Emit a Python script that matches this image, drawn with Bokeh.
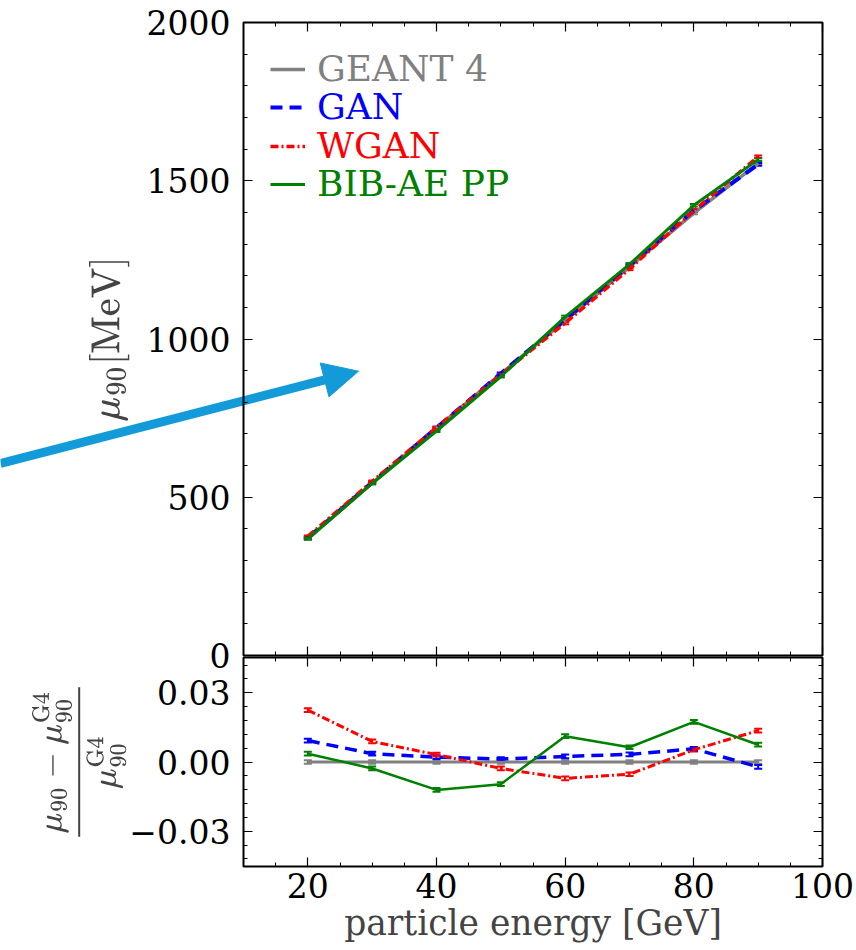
from bokeh.plotting import figure
from bokeh.layouts import column
from bokeh.models import (Range1d, FixedTicker, LinearAxis, Legend, LegendItem, Whisker,
                          TeeHead, Arrow, NormalHead, ColumnDataSource, CustomJSTickFormatter)
from bokeh.embed import file_html
from bokeh.resources import INLINE

# ---------------- data ----------------
energy = [20, 30, 40, 50, 60, 70, 80, 90]

mu_g4 = [368.0, 545.0, 718.0, 890.0, 1058.0, 1228.0, 1398.0, 1555.0]
mu_gan = [371.4, 547.0, 719.5, 891.2, 1060.5, 1232.0, 1406.0, 1551.7]
mu_wgan = [376.3, 549.9, 720.3, 887.5, 1050.5, 1221.5, 1405.4, 1576.1]
mu_bib = [369.3, 543.5, 709.3, 881.5, 1069.8, 1235.9, 1422.3, 1566.7]
mu_err = [3.0, 3.0, 3.0, 3.0, 4.0, 4.0, 4.0, 4.0]

rel_g4 = [0.0, 0.0, 0.0, 0.0, 0.0, 0.0, 0.0, 0.0]
rel_gan = [0.0093, 0.0036, 0.0021, 0.0013, 0.0024, 0.0033, 0.0057, -0.0021]
rel_wgan = [0.0225, 0.0089, 0.0032, -0.0028, -0.0071, -0.0053, 0.0053, 0.0136]
rel_bib = [0.0036, -0.0028, -0.0121, -0.0096, 0.0112, 0.0064, 0.0174, 0.0075]
rel_err = [0.0008, 0.0008, 0.0008, 0.0008, 0.0008, 0.0008, 0.0008, 0.0008]

series_names = ["GEANT 4", "GAN", "WGAN", "BIB-AE PP"]

x_major = [20, 40, 60, 80, 100]
x_minor = [10, 15, 20, 25, 30, 35, 40, 45, 50, 55, 60, 65, 70, 75, 80, 85, 90, 95, 100]
top_major = [0, 500, 1000, 1500, 2000]
top_minor = [0, 100, 200, 300, 400, 500, 600, 700, 800, 900, 1000, 1100, 1200, 1300, 1400,
             1500, 1600, 1700, 1800, 1900, 2000]
bot_major = [-0.03, 0.0, 0.03]
bot_minor = [-0.042, -0.036, -0.03, -0.024, -0.018, -0.012, -0.006, 0.0, 0.006, 0.012, 0.018,
             0.024, 0.03, 0.036, 0.042]

x_label = "particle energy [GeV]"
top_ylabel = r"$$\mu_{90}[\mathrm{MeV}]$$"
bot_ylabel = r"$$\frac{\mu_{90}-\mu_{90}^{\mathrm{G4}}}{\mu_{90}^{\mathrm{G4}}}$$"

# ---------------- styles ----------------
FONT = "DejaVu Serif"
FS = "33px"
styles = [
    dict(color="#808080", dash="solid", width=3),
    dict(color="#0000ff", dash="12 7", width=3.5),
    dict(color="#ff0000", dash="8 3 2 3", width=3),
    dict(color="#008000", dash="solid", width=2.5),
]
ARROW_COLOR = "#129bd8"
# pointer arrow of the picture, in page pixels (x from left, y from top)
ARROW_START_PX = (0, 463)
ARROW_END_PX = (358, 370.7)

W = 856
FRAME_L, FRAME_R, FRAME_T = 243, 34, 22
TOP_FRAME_H = 633
OVERLAP = 22
TOP_H = FRAME_T + TOP_FRAME_H + OVERLAP
x_range = Range1d(10, 100)


def setup_axis(ax, ticker, show_labels, formatter=None):
    ax.ticker = ticker
    ax.axis_line_color = None
    ax.major_tick_in = 9
    ax.major_tick_out = 0
    ax.minor_tick_in = 4
    ax.minor_tick_out = 0
    ax.major_tick_line_color = "black"
    ax.minor_tick_line_color = "black"
    ax.major_tick_line_width = 1.2
    ax.minor_tick_line_width = 1
    if show_labels:
        ax.major_label_text_font = FONT
        ax.major_label_text_font_size = FS
        ax.major_label_text_color = "black"
        ax.major_label_standoff = 13
        if formatter is not None:
            ax.formatter = formatter
    else:
        ax.major_label_text_font_size = "0px"
        ax.major_label_standoff = 0
        ax.formatter = CustomJSTickFormatter(code="return ''")


def make_fig(height, yr, mb_top, mb_bottom):
    p = figure(width=W, height=height, x_range=x_range, y_range=yr,
               output_backend="svg", toolbar_location=None,
               min_border_left=FRAME_L, min_border_right=FRAME_R,
               min_border_top=mb_top, min_border_bottom=mb_bottom)
    p.xgrid.visible = False
    p.ygrid.visible = False
    p.outline_line_color = "black"
    p.outline_line_width = 2
    p.background_fill_color = "white"
    p.border_fill_color = "white"
    return p


# ---------------- arrow overlay (page-pixel canvas behind the upper panel) ----------------
arrow_fig = figure(width=W, height=TOP_H, x_range=Range1d(0, W), y_range=Range1d(TOP_H, 0),
                   output_backend="svg", toolbar_location=None, x_axis_type=None,
                   y_axis_type=None, min_border=0)
arrow_fig.frame_align = False
arrow_fig.xgrid.visible = False
arrow_fig.ygrid.visible = False
arrow_fig.outline_line_color = None
arrow_fig.background_fill_color = "white"
arrow_fig.border_fill_color = "white"
arrow_fig.add_layout(Arrow(end=NormalHead(size=35, fill_color=ARROW_COLOR, line_color=ARROW_COLOR),
                           x_start=ARROW_START_PX[0], y_start=ARROW_START_PX[1],
                           x_end=ARROW_END_PX[0], y_end=ARROW_END_PX[1],
                           line_color=ARROW_COLOR, line_width=9))

# ---------------- top panel ----------------
top = make_fig(TOP_H, Range1d(0, 2000), FRAME_T, OVERLAP)
top.background_fill_alpha = 0
top.border_fill_alpha = 0
top.margin = (-TOP_H, 0, 0, 0)
xt = FixedTicker(ticks=x_major, minor_ticks=x_minor)
yt = FixedTicker(ticks=top_major, minor_ticks=top_minor)
setup_axis(top.xaxis[0], xt, False)
setup_axis(top.yaxis[0], yt, True)
top.yaxis[0].axis_label = top_ylabel
top.yaxis[0].axis_label_text_font_size = "34px"
top.yaxis[0].axis_label_standoff = 14
ax_top = LinearAxis()
setup_axis(ax_top, xt, False)
top.add_layout(ax_top, "above")
ax_right = LinearAxis()
setup_axis(ax_right, yt, False)
top.add_layout(ax_right, "right")

top_vals = [mu_g4, mu_gan, mu_wgan, mu_bib]
renderers = []
for vals, st in zip(top_vals, styles):
    src = ColumnDataSource(dict(x=energy, y=vals,
                                lo=[v - e for v, e in zip(vals, mu_err)],
                                hi=[v + e for v, e in zip(vals, mu_err)]))
    r = top.line("x", "y", source=src, line_color=st["color"], line_width=st["width"] + 0.5,
                 line_dash=st["dash"])
    renderers.append(r)
    top.add_layout(Whisker(source=src, base="x", lower="lo", upper="hi",
                           line_color=st["color"], line_width=2,
                           upper_head=TeeHead(size=8, line_color=st["color"], line_width=2),
                           lower_head=TeeHead(size=8, line_color=st["color"], line_width=2)))

legend_bottoms = [566, 528, 489, 451]
for name, r, st, yb in zip(series_names, renderers, styles, legend_bottoms):
    lg = Legend(items=[LegendItem(label=name, renderers=[r])], location=(27, yb),
                label_text_color=st["color"], label_text_font=FONT, label_text_font_size="36px",
                glyph_width=35, glyph_height=38, label_height=38, label_standoff=12,
                padding=0, margin=0, spacing=0, border_line_alpha=0,
                background_fill_alpha=0)
    top.add_layout(lg)

# ---------------- bottom panel ----------------
bot = make_fig(295, Range1d(-0.0453, 0.0453), 2, 84)
bot.border_fill_alpha = 0
bot.margin = (-OVERLAP, 0, 0, 0)
byt = FixedTicker(ticks=bot_major, minor_ticks=bot_minor)
fmt = CustomJSTickFormatter(code="return tick.toFixed(2).replace('-', '\u2212')")
setup_axis(bot.xaxis[0], xt, True)
bot.xaxis[0].major_label_standoff = 6
bot.xaxis[0].axis_label = x_label
bot.xaxis[0].axis_label_text_font = FONT
bot.xaxis[0].axis_label_text_font_size = "34.5px"
bot.xaxis[0].axis_label_text_font_style = "normal"
bot.xaxis[0].axis_label_standoff = 2
setup_axis(bot.yaxis[0], byt, True, fmt)
bot.yaxis[0].axis_label = bot_ylabel
bot.yaxis[0].axis_label_text_font_size = "27px"
bot.yaxis[0].axis_label_standoff = 0
bx_top = LinearAxis()
setup_axis(bx_top, xt, False)
bot.add_layout(bx_top, "above")
by_right = LinearAxis()
setup_axis(by_right, byt, False)
bot.add_layout(by_right, "right")

bot_vals = [rel_g4, rel_gan, rel_wgan, rel_bib]
for vals, st in zip(bot_vals, styles):
    src = ColumnDataSource(dict(x=energy, y=vals,
                                lo=[v - e for v, e in zip(vals, rel_err)],
                                hi=[v + e for v, e in zip(vals, rel_err)]))
    bot.line("x", "y", source=src, line_color=st["color"], line_width=st["width"],
             line_dash=st["dash"])
    bot.add_layout(Whisker(source=src, base="x", lower="lo", upper="hi",
                           line_color=st["color"], line_width=2,
                           upper_head=TeeHead(size=8, line_color=st["color"], line_width=2),
                           lower_head=TeeHead(size=8, line_color=st["color"], line_width=2)))

layout = column(arrow_fig, top, bot, spacing=0)
open("out.html", "w").write(file_html(layout, INLINE))
